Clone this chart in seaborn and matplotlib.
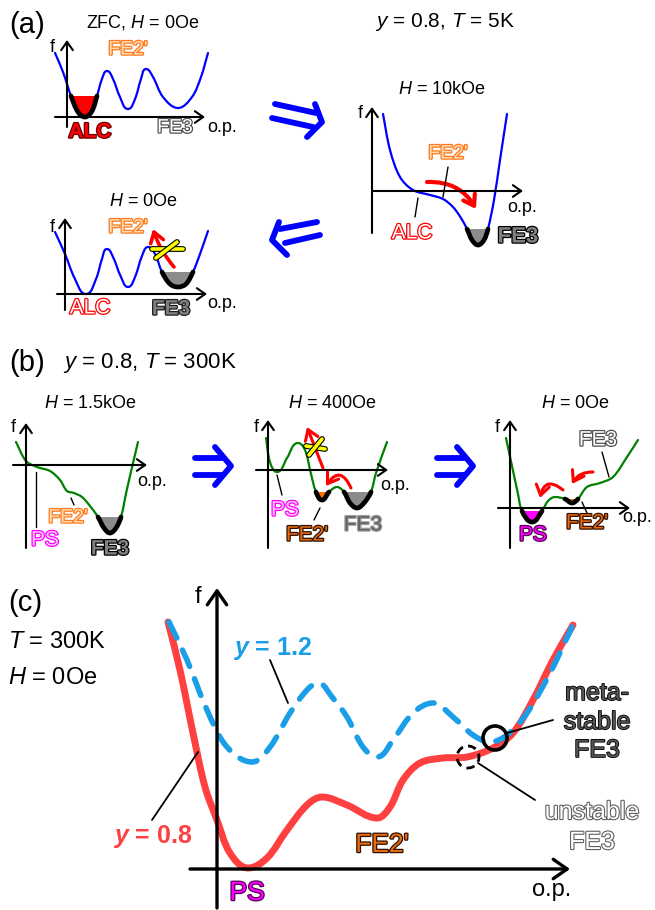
import numpy as np
import seaborn as sns
import matplotlib.pyplot as plt
import matplotlib.patheffects as pe
from matplotlib.path import Path
from matplotlib.patches import PathPatch, Circle, FancyArrowPatch

# ---- curve data: (o.p., f), origin = axis crossing ----
# (a) ZFC, H = 0Oe
a1_op = [-12, -4, 4, 11, 18, 25, 30, 35, 40, 46, 53, 61, 68, 74, 79, 86, 96, 111, 125, 134, 141]
a1_f = [64, 45, 21, 5, 0, 6, 21, 38, 46, 38, 20, 8, 18, 38, 48, 40, 20, 9, 20, 40, 64]
# (a) H = 10kOe
a2_op = [11, 18, 28, 41, 58, 71, 81, 89, 95, 100, 106, 112, 116, 122, 128, 135]
a2_f = [77, 41, 14, 1, -4, -8, -16, -27, -38, -49, -54, -49, -38, -9, 31, 77]
# (a) H = 0Oe after field
a3_op = [-10, 0, 10, 21, 31, 37, 42, 48, 56, 63, 70, 77, 83, 90, 97, 105, 113, 121, 128, 135, 143]
a3_f = [62, 40, 15, 0, 15, 35, 45, 37, 17, 7, 17, 38, 47, 40, 22, 10, 7, 10, 22, 40, 63]
# (b) H = 1.5kOe
b1_op = [-10, 0, 11, 24, 34, 41, 48, 56, 64, 72, 78, 84, 90, 95, 101, 112]
b1_f = [23, 4, -2, -6, -15, -26, -28, -32, -41, -52, -63, -68, -63, -52, -24, 23]
# (b) H = 400Oe
b2_op = [-2, 2, 9, 19, 30, 37, 43, 48, 54, 61, 69, 76, 82, 89, 96, 103, 108, 119]
b2_f = [32, 8, -2, 12, 27, 20, -4, -22, -30, -22, -17, -22, -33, -38, -33, -22, -3, 28]
# (b) H = 0Oe
b3_op = [-4, 2, 8, 12, 22, 32, 38, 45, 55, 62, 68, 77, 90, 103, 117, 128]
b3_f = [70, 42, 14, -3, -14, -3, 7, 11, 9, 5, 9, 21, 25, 31, 51, 68]
# (c) T = 300K, H = 0Oe
c_y08_op = [-49, -37, -24, -12, 0, 13, 31, 50, 70, 90, 105, 130, 160, 173, 186, 203,
            226, 250, 276, 296, 316, 336, 356]
c_y08_f = [247, 199, 136, 82, 49, 16, 1, 11, 39, 64, 72, 64, 51, 62, 89, 106,
           111, 112, 121, 136, 169, 209, 244]
c_y12_op = [-48, -30, -10, 10, 35, 53, 73, 90, 101, 115, 130, 146, 160, 176, 196, 216,
            236, 256, 273, 290, 310, 333, 355]
c_y12_f = [247, 209, 159, 122, 107, 122, 156, 179, 186, 172, 152, 122, 112, 129, 156, 166,
           152, 134, 127, 134, 156, 196, 242]

sns.set_theme(style="white")
plt.rcParams['font.family'] = ['Liberation Sans', 'DejaVu Sans']
plt.rcParams['mathtext.fontset'] = 'custom'
plt.rcParams['mathtext.rm'] = 'Liberation Sans'
plt.rcParams['mathtext.it'] = 'Liberation Sans:italic'
plt.rcParams['mathtext.bf'] = 'Liberation Sans:bold:italic'

fig = plt.figure(figsize=(6.55, 9.10), dpi=100)
ax = fig.add_axes([0, 0, 1, 1])
ax.set_xlim(0, 655)
ax.set_ylim(910, 0)
ax.axis('off')


def to_img(origin, op, f):
    ox, oy = origin
    return np.asarray(op, float) + ox, oy - np.asarray(f, float)


def smooth(px, py, i0=0, i1=None):
    n = len(px)
    if i1 is None:
        i1 = n - 1
    ux, uy = np.zeros(n), np.zeros(n)
    for i in range(n):
        a, b = max(i - 1, 0), min(i + 1, n - 1)
        dx, dy = px[b] - px[a], py[b] - py[a]
        if 0 < i < n - 1 and (py[i] - py[a]) * (py[b] - py[i]) < 0:
            dy = 0.0
        L = np.hypot(dx, dy)
        ux[i], uy[i] = dx / L, dy / L
    verts = [(px[i0], py[i0])]
    codes = [Path.MOVETO]
    for i in range(i0, i1):
        d = np.hypot(px[i + 1] - px[i], py[i + 1] - py[i]) / 3
        verts += [(px[i] + ux[i] * d, py[i] + uy[i] * d),
                  (px[i + 1] - ux[i + 1] * d, py[i + 1] - uy[i + 1] * d),
                  (px[i + 1], py[i + 1])]
        codes += [Path.CURVE4] * 3
    return verts, codes


def curve(origin, op, f, color, lw, **kw):
    px, py = to_img(origin, op, f)
    v, c = smooth(px, py)
    ax.add_patch(PathPatch(Path(v, c), fill=False, edgecolor=color, lw=lw,
                           capstyle='round', **kw))


def well(origin, op, f, i0, i1, color):
    px, py = to_img(origin, op, f)
    v, c = smooth(px, py, i0, i1)
    ax.add_patch(PathPatch(Path(v + [v[0]], c + [Path.CLOSEPOLY]),
                           facecolor=color, edgecolor='none'))
    ax.add_patch(PathPatch(Path(v, c), fill=False, edgecolor='black', lw=3.4,
                           capstyle='round'))


def axes_cross(origin, vlo, vhi, hlo, hhi, lw=1.5, ms=12):
    ox, oy = origin
    arr = dict(arrowstyle='->,head_length=0.5,head_width=0.35', lw=lw, color='black',
               shrinkA=0, shrinkB=0, mutation_scale=ms)
    ax.annotate('', xy=(ox, oy - vhi), xytext=(ox, oy - vlo), arrowprops=arr)
    ax.annotate('', xy=(ox + hhi, oy), xytext=(ox + hlo, oy), arrowprops=arr)


def label(x, y, s, size, fill='black', edge=None, weight='normal', slw=1.8, ha='center'):
    t = ax.text(x, y, s, fontsize=size, color=fill, fontweight=weight,
                ha=ha, va='center')
    if edge is not None:
        t.set_path_effects([pe.withStroke(linewidth=slw, foreground=edge)])


def line(pts, color='black', lw=1.0, **kw):
    xs, ys = zip(*pts)
    ax.plot(xs, ys, color=color, lw=lw, solid_capstyle='round', **kw)


def red_arrow(p0, p1, rad, lw=2.6):
    ax.add_patch(FancyArrowPatch(p0, p1, connectionstyle=f'arc3,rad={rad}',
                                 arrowstyle='->,head_length=0.45,head_width=0.3',
                                 mutation_scale=16, color='#ff0000', lw=lw,
                                 shrinkA=0, shrinkB=0))


def cross(bar, diag):
    for seg in (bar, diag):
        line(seg, color='#ffff00', lw=2.6,
             path_effects=[pe.Stroke(linewidth=4.2, foreground='black'), pe.Normal()])


ORANGE_E, ORANGE_F = '#ff7a1a', '#ffdcb8'
DORANGE = '#e86a10'
GRAY = '#8c8c8c'
BLUE = '#0000ff'
GREEN = '#008000'

# ---------------- panel (a) ----------------
o = (67, 117)
axes_cross(o, -10, 77, -12, 138)
curve(o, a1_op, a1_f, BLUE, 1.6)
well(o, a1_op, a1_f, 2, 6, '#ff0000')
label(27, 25, '(a)', 21)
label(143, 22, 'ZFC, $H$ = 0Oe', 13)
label(52, 47, 'f', 13)
label(128, 50, "FE2'", 14, ORANGE_F, ORANGE_E)
label(90, 132, 'ALC', 15, '#ff0000', '#600000', weight='bold')
label(175, 128, 'FE3', 14, 'white', '#505050')
label(222, 128, 'o.p.', 13)

o = (372, 191)
axes_cross(o, -42, 84, 0, 151)
curve(o, a2_op, a2_f, BLUE, 1.6)
well(o, a2_op, a2_f, 8, 12, GRAY)
label(445, 22, '$y$ = 0.8, $T$ = 5K', 15)
label(442, 89, '$H$ = 10kOe', 13)
label(360, 113, 'f', 13)
line([(448, 167), (443, 197)])
label(448, 154, "FE2'", 14, ORANGE_F, ORANGE_E)
line([(418, 198), (415, 217)])
label(412, 233, 'ALC', 15, 'white', '#ff0000')
label(522, 208, 'o.p.', 13)
label(518, 237, 'FE3', 16, '#808080', 'black', weight='bold')
red_arrow((427, 182), (476, 209), -0.3, lw=3)

o = (65, 294)
axes_cross(o, -16, 76, -8, 142)
curve(o, a3_op, a3_f, BLUE, 1.6)
well(o, a3_op, a3_f, 14, 18, GRAY)
label(143, 202, '$H$ = 0Oe', 13)
label(52, 227, 'f', 13)
label(128, 228, "FE2'", 14, ORANGE_F, ORANGE_E)
red_arrow((174, 267), (153, 229), -0.1)
cross([(152, 249), (183, 249)], [(156, 258), (177, 242)])
label(90, 308, 'ALC', 15, 'white', '#ff0000')
label(171, 309, 'FE3', 15, '#808080', '#202020', weight='bold')
label(222, 303, 'o.p.', 13)

# big blue arrows of (a)
bl = dict(color=BLUE, lw=4.2)
line([(275, 104), (316, 113)], **bl)
line([(272, 118), (313, 127)], **bl)
line([(315, 104), (322, 122), (307, 137)], **bl)
line([(317, 222), (280, 229)], **bl)
line([(320, 235), (285, 243)], **bl)
line([(279, 222), (272, 240), (287, 255)], **bl)

# ---------------- panel (b) ----------------
o = (26, 465)
axes_cross(o, -83, 42, -13, 121)
curve(o, b1_op, b1_f, GREEN, 1.6)
well(o, b1_op, b1_f, 9, 13, GRAY)
label(27, 363, '(b)', 21)
label(63, 363, '$y$ = 0.8, $T$ = 300K', 16, ha='left')
label(90, 404, '$H$ = 1.5kOe', 13)
label(13, 428, 'f', 13)
label(152, 482, 'o.p.', 13)
line([(36, 472), (36, 527)])
label(45, 540, 'PS', 15, '#ffc8ff', '#ff00ff')
line([(71, 498), (74, 505)])
label(68, 518, "FE2'", 14, ORANGE_F, ORANGE_E)
label(110, 549, 'FE3', 15, '#808080', 'black', weight='bold')

o = (268, 470)
axes_cross(o, -78, 50, -12, 120)
curve(o, b2_op, b2_f, GREEN, 1.6)
well(o, b2_op, b2_f, 7, 9, '#ff7000')
well(o, b2_op, b2_f, 11, 15, GRAY)
label(332, 404, '$H$ = 400Oe', 13)
label(256, 428, 'f', 13)
label(395, 485, 'o.p.', 13)
red_arrow((323, 468), (307, 427), 0.0, lw=2.2)
cross([(306, 446), (325, 449)], [(309, 455), (322, 439)])
red_arrow((351, 488), (326, 486), 0.9, lw=2.2)
line([(277, 475), (282, 495)])
label(285, 510, 'PS', 15, '#ffc8ff', '#ff00ff')
line([(320, 508), (314, 520)])
label(307, 535, "FE2'", 15, DORANGE, '#301000')
label(363, 525, 'FE3', 15, '#606060', '#a0a0a0')

o = (510, 508)
axes_cross(o, -40, 88, -12, 120)
curve(o, b3_op, b3_f, GREEN, 1.6)
well(o, b3_op, b3_f, 3, 5, '#ff00ff')
well(o, b3_op, b3_f, 8, 10, '#ff7000')
label(575, 404, '$H$ = 0Oe', 13)
label(497, 428, 'f', 13)
label(637, 518, 'o.p.', 13)
red_arrow((563, 490), (540, 498), 0.8, lw=2.2)
red_arrow((593, 472), (572, 484), 0.3, lw=2.2)
line([(602, 452), (609, 477)])
label(598, 440, 'FE3', 15, 'white', '#505050')
label(533, 535, 'PS', 15, '#ff00ff', '#500050')
line([(582, 502), (587, 513)])
label(587, 523, "FE2'", 15, DORANGE, '#301000')

# big blue arrows of (b)
for x0 in (195, 437):
    line([(x0, 458), (x0 + 27, 458)], **bl)
    line([(x0, 475), (x0 + 27, 475)], **bl)
    line([(x0 + 20, 447), (x0 + 36, 466), (x0 + 20, 485)], **bl)

# ---------------- panel (c) ----------------
o = (217, 869)
axes_cross(o, -39, 281, -27, 353, lw=2.4, ms=20)
curve(o, c_y08_op, c_y08_f, '#ff4040', 5.0)
curve(o, c_y12_op, c_y12_f, '#1a9ee8', 4.0, linestyle=(0, (3.2, 2.4)))
label(25, 603, '(c)', 21)
label(8, 642, '$T$ = 300K', 17, ha='left')
label(8, 678, '$H$ = 0Oe', 17, ha='left')
label(198, 597, 'f', 17)
label(247, 893, 'PS', 19, '#ff00ff', '#500050')
label(552, 890, 'o.p.', 17)
label(382, 845, "FE2'", 19, DORANGE, '#301000')
line([(270, 660), (288, 703)], lw=1.3)
label(273, 648, r'$\mathbf{y}$ = 1.2', 18, '#1a9ee8', weight='bold')
line([(152, 820), (198, 752)], lw=1.3)
label(153, 837, r'$\mathbf{y}$ = 0.8', 18, '#ff4040', weight='bold')
ax.add_patch(Circle((495, 738), 12, fill=False, edgecolor='black', lw=2.6))
ax.add_patch(Circle((468, 757), 11, fill=False, edgecolor='black', lw=2.0,
                    linestyle=(0, (3, 2))))
line([(507, 733), (553, 720)], lw=1.3)
line([(478, 763), (535, 800)], lw=1.3)
for yy, s in ((693, 'meta-'), (722, 'stable'), (750, 'FE3')):
    label(597, yy, s, 18, '#555555', 'black', slw=1.2)
for yy, s in ((812, 'unstable'), (842, 'FE3')):
    label(592, yy, s, 18, 'white', '#606060', slw=1.6)

fig.savefig('out.png', dpi=100)
